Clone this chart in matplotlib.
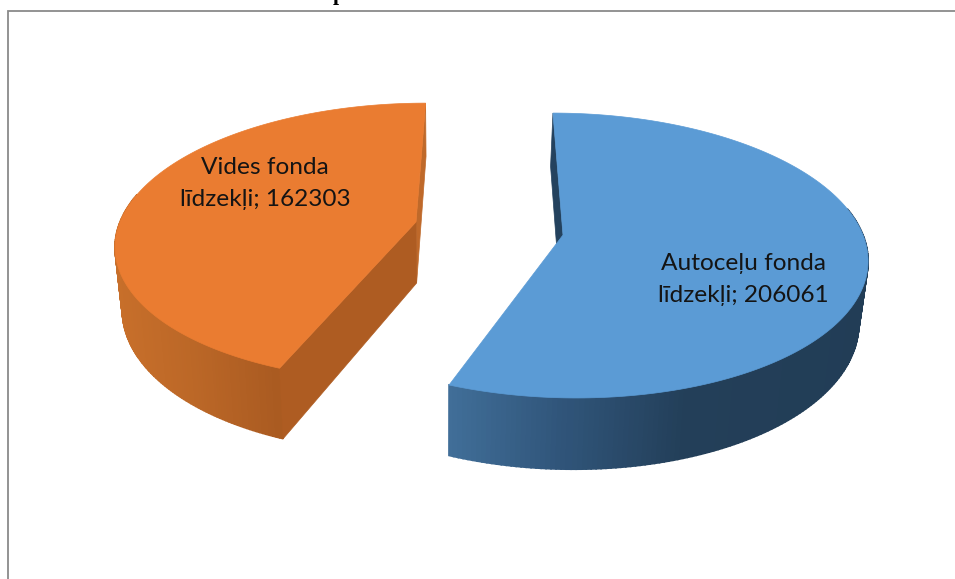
import numpy as np
import matplotlib
matplotlib.use("Agg")
import matplotlib.pyplot as plt
from matplotlib.colors import to_rgb
from matplotlib.patches import Polygon

# --- data ---
categories = ["Autoceļu fonda\nlīdzekļi", "Vides fonda\nlīdzekļi"]
values = [206061, 162303]

# --- style ---
top_colors = ["#5b9bd5", "#ea7c31"]
cut_colors = ["#24425e", "#ae5c22"]
back_colors = ["#24425e", "#bf692a"]
side_stops_x = [[448, 560, 680, 870], [115, 200, 285, 420]]
side_stops_c = [["#416f99", "#30557a", "#233f59", "#223d56"],
                ["#c9702b", "#bb6727", "#a95a21", "#a95a21"]]
apex = [(563, 235), (416, 222)]
radius = [300, 296]
lean = [-11.5, 11.0]
squash = [139.5, 136.0]
persp = 0.144
depth = 61
label_pos = [(743, 263, 295), (265, 167, 199)]

fig = plt.figure(figsize=(9.55, 5.79), dpi=100, facecolor="white")
ax = fig.add_axes([0, 0, 1, 1])
ax.set_xlim(0, 955)
ax.set_ylim(579, 0)
ax.axis("off")

# chart frame and clipped heading
ax.plot([8, 8, 955], [579, 10.5, 10.5], color="#8a8a8a", lw=1.3, solid_joinstyle="miter")
ax.text(333, 0.3, "p", family="Liberation Serif", weight="bold", fontsize=15.5,
        ha="left", va="baseline", color="black", clip_on=False)


def project(i, theta):
    u, v = np.sin(theta), np.cos(theta)
    s = 1 / (1 + persp * v)
    x = apex[i][0] + (radius[i] * u + lean[i] * v) * s
    y = apex[i][1] - squash[i] * v * s
    return x, y, s


def lower(x, y, s):
    return x - 0.022 * (x - 445), y + depth * s


def side_color(i, x):
    rgb = np.array([to_rgb(c) for c in side_stops_c[i]])
    return [float(np.interp(x, side_stops_x[i], rgb[:, k])) for k in range(3)]


fractions = np.array(values, dtype=float) / sum(values)
edges = np.concatenate([[0], np.cumsum(fractions)]) * 2 * np.pi
spans = [(edges[0], edges[1]), (edges[1], edges[2])]

for i, (a0, a1) in enumerate(spans):
    th = np.linspace(a0, a1, 241)
    x, y, s = project(i, th)
    xb, yb = lower(x, y, s)
    ax0, ay0 = apex[i]
    bx0, by0 = lower(ax0, ay0, 1.0)

    # back cut face (the edge of the slice that lies at the top of the picture)
    k = 0 if i == 0 else -1
    ax.add_patch(Polygon([(x[k], y[k]), (ax0, ay0), (bx0, by0), (xb[k], yb[k])],
                         closed=True, fc=back_colors[i], ec=back_colors[i], lw=0.5, zorder=3.5))

    # outer wall, painted back to front; its far half lies behind the top face
    order = np.argsort(-np.cos(th[:-1]))
    for j in order:
        if np.cos(th[j]) > 0.2:
            continue
        c = side_color(i, (xb[j] + xb[j + 1]) / 2)
        ax.add_patch(Polygon([(x[j], y[j]), (x[j + 1], y[j + 1]),
                              (xb[j + 1], yb[j + 1]), (xb[j], yb[j])],
                             closed=True, fc=c, ec=c, lw=1.2, zorder=3))

    # front cut face: seen on the orange slice, hidden on the blue one
    if i == 1:
        k = 0
        ax.add_patch(Polygon([(x[k], y[k]), (ax0, ay0), (bx0, by0), (xb[k], yb[k])],
                             closed=True, fc=cut_colors[i], ec=cut_colors[i], lw=0.5, zorder=4))

    # top face
    ax.add_patch(Polygon(np.vstack([[ax0, ay0], np.column_stack([x, y])]),
                         closed=True, fc=top_colors[i], ec=top_colors[i], lw=0.5, zorder=5))

    # data label
    name1, name2 = categories[i].split("\n")
    lx, ly1, ly2 = label_pos[i]
    for txt, ly in ((name1, ly1), (f"{name2}; {values[i]}", ly2)):
        ax.text(lx, ly, txt, family="Lato", fontsize=17.6, color="#141414",
                ha="center", va="center", zorder=6)

fig.savefig("out.png", dpi=100, facecolor="white")
